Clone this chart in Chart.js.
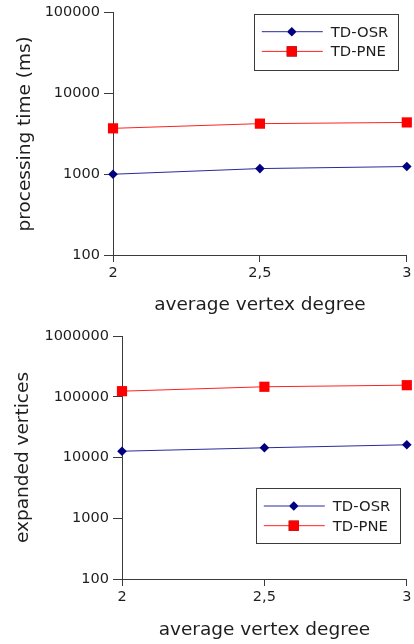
<!DOCTYPE html>
<html>
<head>
<meta charset="utf-8">
<script src="https://cdn.jsdelivr.net/npm/chart.js@4.4.1/dist/chart.umd.min.js"></script>
<style>
  html, body { margin: 0; padding: 0; background: #fff; }
  .box { position: absolute; left: 0; width: 414px; }
</style>
</head>
<body>
<div class="box" style="top:0;height:320px"><canvas id="timeChart" width="414" height="320"></canvas></div>
<div class="box" style="top:320px;height:324px"><canvas id="vertChart" width="414" height="324"></canvas></div>
<script>
// data
const degrees = [2, 2.5, 3];
const degreeLabels = ["2", "2,5", "3"];
const seriesNames = ["TD-OSR", "TD-PNE"];

const osrTime = [1000, 1175, 1245];
const pneTime = [3700, 4230, 4380];
const timeTicks = [100, 1000, 10000, 100000];

const osrExpanded = [12700, 14450, 16200];
const pneExpanded = [123600, 146000, 155000];
const expandedTicks = [100, 1000, 10000, 100000, 1000000];

const FONT = "'DejaVu Sans', sans-serif";
const AXIS = "#3a3a3a";
const TEXT = "#1e1e1e";

// legend drawn inside the plot area, boxed
const boxLegend = {
  id: "boxLegend",
  afterDraw(chart, args, opts) {
    const ctx = chart.ctx;
    const a = chart.chartArea;
    const x = a.right - opts.right - opts.w;
    const y = opts.fromBottom != null ? a.bottom - opts.fromBottom - opts.h : a.top + opts.top;
    ctx.save();
    ctx.fillStyle = "#fff";
    ctx.fillRect(x, y, opts.w, opts.h);
    ctx.strokeStyle = AXIS;
    ctx.lineWidth = 1;
    ctx.strokeRect(Math.round(x) + 0.5, Math.round(y) + 0.5, opts.w, opts.h);
    chart.data.datasets.forEach((ds, i) => {
      const ry = y + 18 + i * 19.7;
      ctx.strokeStyle = ds.borderColor;
      ctx.lineWidth = 1;
      ctx.beginPath();
      ctx.moveTo(x + 8, ry);
      ctx.lineTo(x + 69, ry);
      ctx.stroke();
      Chart.helpers.drawPoint(ctx, {
        pointStyle: ds.pointStyle,
        radius: ds.pointRadius,
        rotation: 0,
        borderWidth: 0
      }, x + 38, ry);
      ctx.fillStyle = ds.pointBackgroundColor;
      ctx.fill();
      ctx.fillStyle = TEXT;
      ctx.font = "14.8px " + FONT;
      ctx.textBaseline = "middle";
      ctx.fillText(ds.label, x + 77, ry + 1);
    });
    ctx.restore();
  }
};

function makeSeries(label, ys, color, lineColor, style, r) {
  return {
    label: label,
    data: degrees.map((d, i) => ({ x: d, y: ys[i] })),
    borderColor: lineColor,
    borderWidth: 1,
    pointStyle: style,
    pointRadius: r,
    pointHoverRadius: r,
    pointBackgroundColor: color,
    pointBorderWidth: 0,
    tension: 0,
    clip: false
  };
}

function makeChart(id, osr, pne, ticks, yTitle, sizes) {
  return new Chart(document.getElementById(id), {
    type: "line",
    data: {
      datasets: [
        makeSeries(seriesNames[0], osr, "#000080", "#2a2a9a", "rectRot", 4.8),
        makeSeries(seriesNames[1], pne, "#ff0000", "#ff2020", "rect", 7.2)
      ]
    },
    options: {
      responsive: false,
      animation: false,
      events: [],
      layout: { padding: { top: sizes.top, right: 7, left: 0, bottom: 0 } },
      plugins: {
        legend: { display: false },
        tooltip: { enabled: false },
        boxLegend: sizes.legend
      },
      scales: {
        x: {
          type: "linear",
          min: 2,
          max: 3,
          afterFit: s => { s.height = sizes.xh; s.paddingRight = 0; s.paddingLeft = 0; },
          afterBuildTicks: s => { s.ticks = degrees.map(v => ({ value: v })); },
          ticks: {
            callback: (v) => degreeLabels[degrees.indexOf(v)],
            color: TEXT,
            font: { family: FONT, size: 14.5 },
            padding: 3,
            maxRotation: 0
          },
          grid: { drawOnChartArea: false, drawTicks: true, tickLength: 7, color: AXIS },
          border: { display: true, color: AXIS, width: 1 },
          title: {
            display: true,
            text: "average vertex degree",
            color: TEXT,
            font: { family: FONT, size: 18.5, lineHeight: 1.2 },
            padding: { top: 0, bottom: sizes.xpad }
          }
        },
        y: {
          type: "logarithmic",
          min: ticks[0],
          max: ticks[ticks.length - 1],
          afterFit: s => { s.width = sizes.yw; },
          afterBuildTicks: s => { s.ticks = ticks.map(v => ({ value: v })); },
          ticks: {
            callback: v => String(v),
            color: TEXT,
            font: { family: FONT, size: 14.5 },
            padding: 4
          },
          grid: { drawOnChartArea: false, drawTicks: true, tickLength: 9, color: AXIS },
          border: { display: true, color: AXIS, width: 1 },
          title: {
            display: true,
            text: yTitle,
            color: TEXT,
            font: { family: FONT, size: 18.5, lineHeight: 1.2 },
            padding: { top: sizes.ypad, bottom: 0 }
          }
        }
      }
    },
    plugins: [boxLegend]
  });
}

makeChart("timeChart", osrTime, pneTime, timeTicks, "processing time (ms)", {
  top: 12, xh: 65, yw: 113, xpad: 4, ypad: 14,
  legend: { w: 144, h: 56, right: 9, top: 1 }
});

makeChart("vertChart", osrExpanded, pneExpanded, expandedTicks, "expanded vertices", {
  top: 16, xh: 65, yw: 122, xpad: 3, ypad: 12,
  legend: { w: 144, h: 55, right: 7, fromBottom: 36 }
});
</script>
</body>
</html>
